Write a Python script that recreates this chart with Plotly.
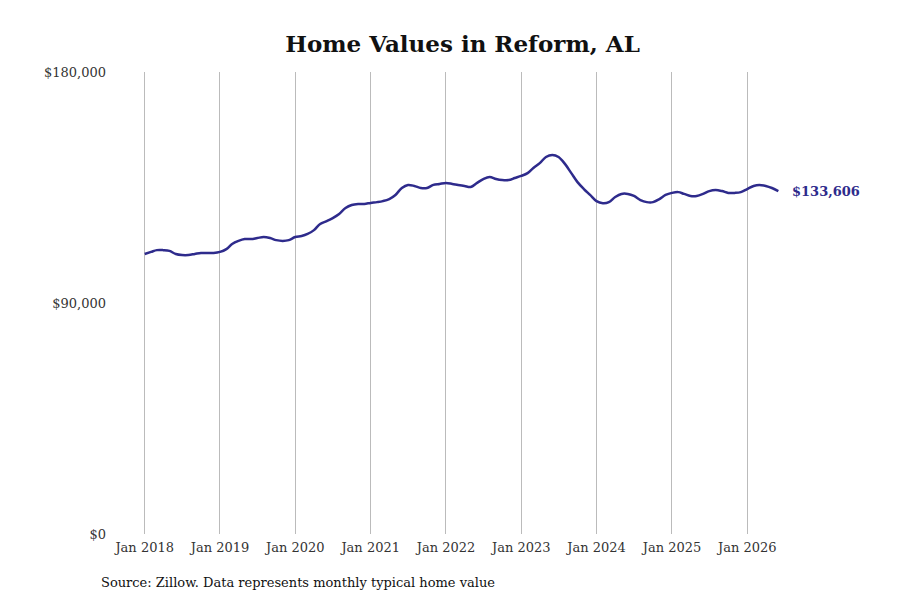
import plotly.graph_objects as go
import pandas as pd

dates = pd.date_range("2018-01-01", "2026-06-01", freq="MS")
values = [
    109100, 109900, 110600, 110600, 110300, 109100, 108700, 108700, 109100, 109500, 109500, 109500,
    109900, 111000, 113000, 114200, 114900, 114900, 115300, 115700, 115300, 114500, 114200, 114500,
    115700, 116100, 116900, 118400, 120800, 121900, 123100, 124700, 127000, 128200, 128600, 128600,
    129000, 129300, 129700, 130500, 132100, 134800, 136000, 135600, 134800, 134800, 136000, 136400,
    136800, 136400, 136000, 135600, 135200, 136800, 138300, 139100, 138300, 137900, 137900, 138700,
    139500, 140600, 142600, 144500, 146900, 147700, 146900, 144200, 140600, 137100, 134400, 132100,
    129700, 128900, 129300, 131300, 132500, 132500, 131700, 130100, 129300, 129300, 130500, 132100,
    132900, 133200, 132500, 131700, 131700, 132500, 133600, 134000, 133600, 132900, 132900, 133200,
    134400, 135600, 136000, 135600, 134800, 133606,
]
tick_vals = pd.date_range("2018-01-01", "2026-01-01", freq="YS")
tick_text = [d.strftime("Jan %Y") for d in tick_vals]

fig = go.Figure()
fig.add_trace(go.Scatter(x=dates, y=values, mode="lines",
                         line=dict(color="#2e2b8c", width=2.5, shape="spline"),
                         hoverinfo="skip", showlegend=False))
fig.add_annotation(x=dates[-1], y=values[-1], text="<b>$%s</b>" % format(values[-1], ","),
                   xanchor="left", xshift=12, showarrow=False,
                   font=dict(color="#2e2b8c", size=13, family="DejaVu Serif"))
fig.add_annotation(x=0, xref="paper", xshift=-16, y=-0.085, yref="paper", yanchor="top",
                   xanchor="left", showarrow=False,
                   text="Source: Zillow. Data represents monthly typical home value",
                   font=dict(size=13, color="#111", family="DejaVu Serif"))

fig.update_layout(
    width=900, height=600,
    paper_bgcolor="white", plot_bgcolor="white",
    margin=dict(l=107, r=88, t=64, b=74),
    font=dict(family="DejaVu Serif", color="#333", size=13),
    title=dict(text="<b>Home Values in Reform, AL</b>", x=0.505, xanchor="center",
               y=0.94, yanchor="middle",
               font=dict(size=23, color="#111", family="DejaVu Serif")),
    xaxis=dict(range=["2017-08-10", "2026-12-20"], tickvals=tick_vals, ticktext=tick_text,
               showgrid=True, gridcolor="#bbbbbb", gridwidth=1, zeroline=False, showline=False,
               ticks="", ticklabelstandoff=4),
    yaxis=dict(range=[0, 180000], tickvals=[0, 90000, 180000],
               ticktext=["$0", "$90,000", "$180,000"], showgrid=False, zeroline=False,
               ticks="", ticklabelstandoff=8),
)
fig.write_html("out.html")
